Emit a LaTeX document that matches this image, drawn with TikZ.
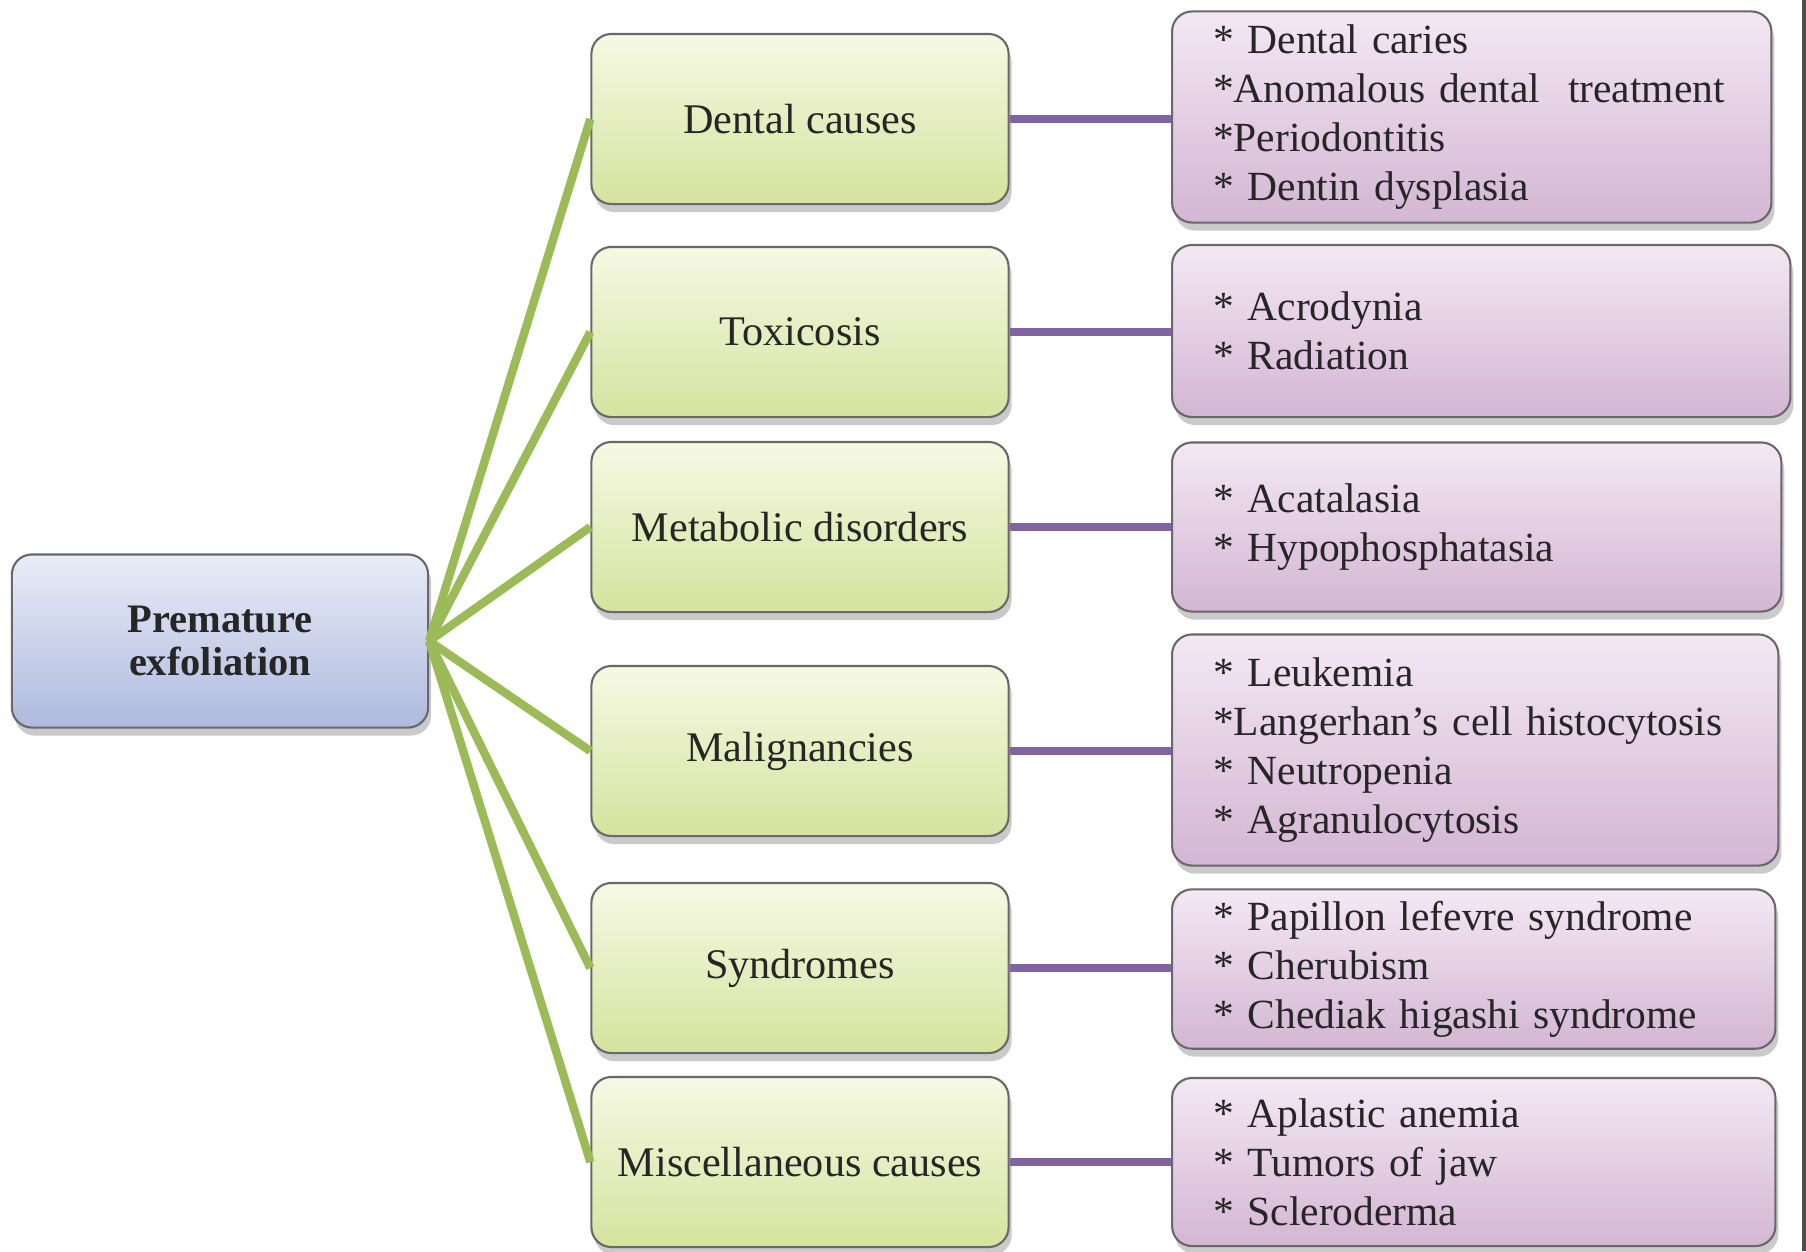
\documentclass[tikz,border=0pt]{standalone}
\usepackage{fontspec}
\setmainfont{Liberation Serif}
\usetikzlibrary{shadows}

\definecolor{rootTop}{RGB}{233,236,247}
\definecolor{rootBottom}{RGB}{174,186,222}
\definecolor{causeTop}{RGB}{246,249,228}
\definecolor{causeBottom}{RGB}{213,227,158}
\definecolor{listTop}{RGB}{244,232,244}
\definecolor{listBottom}{RGB}{211,182,211}
\definecolor{boxBorder}{RGB}{105,105,105}
\definecolor{branchGreen}{RGB}{155,187,89}
\definecolor{linkPurple}{RGB}{128,100,162}

\begin{document}
\begin{tikzpicture}[
        x=0.01cm, y=-0.01cm,
        box/.style={draw=boxBorder, line width=0.6pt, rounded corners=2mm, text=black!85,
          drop shadow={shadow xshift=0.3mm, shadow yshift=-0.8mm, fill=black!60, opacity=0.35}},
        root/.style={box, top color=rootTop, bottom color=rootBottom, minimum width=4.16cm,
          minimum height=1.73cm, align=center, font=\fontsize{11.5}{12}\selectfont\bfseries},
        cause/.style={box, top color=causeTop, bottom color=causeBottom, minimum width=4.17cm,
          minimum height=1.7cm, font=\fontsize{12}{14}\selectfont},
        list/.style={box, top color=listTop, bottom color=listBottom, anchor=west, align=left,
          inner xsep=0.41cm, font=\fontsize{11.8}{13.9}\selectfont},
        branch/.style={draw=branchGreen, line width=2.4pt},
        link/.style={draw=linkPurple, line width=2.3pt}
      ]
        \useasboundingbox (0,0) rectangle (1806,1251);

        \node (root) at (220, 641) [root] {Premature\\exfoliation};

        \node (m1) at (800, 119)  [cause] {Dental causes};
        \node (m2) at (800, 332)  [cause] {Toxicosis};
        \node (m3) at (800, 527)  [cause] {Metabolic disorders};
        \node (m4) at (800, 751)  [cause] {Malignancies};
        \node (m5) at (800, 968)  [cause] {Syndromes};
        \node (m6) at (800, 1162) [cause] {Miscellaneous causes};

        \node (r1) at (1171, 117)  [list, text width=5.17cm, minimum height=2.11cm]
          {* Dental caries\\{}*Anomalous dental\ \ treatment\\{}*Periodontitis\\{}* Dentin dysplasia};
        \node (r2) at (1171, 331)  [list, text width=5.36cm, minimum height=1.72cm]
          {* Acrodynia\\{}* Radiation};
        \node (r3) at (1171, 527)  [list, text width=5.27cm, minimum height=1.69cm]
          {* Acatalasia\\{}* Hypophosphatasia};
        \node (r4) at (1171, 750)  [list, text width=5.24cm, minimum height=2.31cm]
          {* Leukemia\\{}*Langerhan's cell histocytosis\\{}* Neutropenia\\{}* Agranulocytosis};
        \node (r5) at (1171, 969)  [list, text width=5.21cm, minimum height=1.51cm]
          {* Papillon lefevre syndrome\\{}* Cherubism\\{}* Chediak higashi syndrome};
        \node (r6) at (1171, 1162) [list, text width=5.21cm, minimum height=1.68cm]
          {* Aplastic anemia\\{}* Tumors of jaw\\{}* Scleroderma};

        \foreach \i in {1,...,6} {
          \draw [branch] (root.east) -- (m\i.west);
          \draw [link] (m\i.east) -- (m\i.east -| r\i.west);
        }

        % scan edge on the right
        \draw [black!70, line width=1pt] (1804, 0) -- (1804, 1251);
      \end{tikzpicture}
\end{document}
